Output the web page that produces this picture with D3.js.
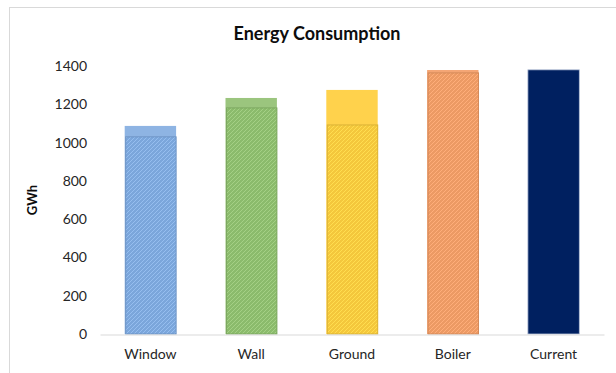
<!DOCTYPE html>
<head>
  <title>Energy Consumption</title>
</head>
<style>
html, body {
  margin: 0;
  padding: 0;
  background: #ffffff;
}
svg text {
  font-family: Lato, "Open Sans", sans-serif;
  fill: #262626;
}
.axis .domain {
  stroke: #d9d9d9;
}
.axis .tick line {
  display: none;
}
</style>

<svg width="616" height="373"></svg>

<script src="https://d3js.org/d3.v7.min.js"></script>
<script>
// categories and values
var categories = ["Window", "Wall", "Ground", "Boiler", "Current"];
var totals = [1087, 1233, 1275, 1379, 1380];
var hatched = [1030, 1181, 1092, 1364, null];
var lightColors = ["#8eb4e3", "#9bc57e", "#ffd24c", "#f4a574", "#002060"];
var hatchColors = ["#7ba6db", "#8bbb6c", "#f4c73c", "#ec9a64", null];
var yTicks = [0, 200, 400, 600, 800, 1000, 1200, 1400];

var svg = d3.select("svg");

// chart border
svg.append("rect")
  .attr("x", 9.5).attr("y", 7.5)
  .attr("width", 620).attr("height", 380)
  .attr("fill", "none")
  .attr("stroke", "#d9d9d9");

var x = d3.scaleBand()
  .domain(categories)
  .range([100, 604])
  .paddingInner(0.49)
  .paddingOuter(0.245);

var y = d3.scaleLinear()
  .domain([0, 1400])
  .range([334, 66]);

// hatch patterns, one per colour
var defs = svg.append("defs");
hatchColors.forEach(function(c, i) {
  if (!c) return;
  var p = defs.append("pattern")
    .attr("id", "hatch" + i)
    .attr("patternUnits", "userSpaceOnUse")
    .attr("width", 4).attr("height", 4);
  p.append("rect").attr("width", 4).attr("height", 4).attr("fill", c);
  p.append("path")
    .attr("d", "M-1,1 l2,-2 M0,4 l4,-4 M3,5 l2,-2")
    .attr("stroke", d3.color(lightColors[i]).brighter(0.15))
    .attr("stroke-width", 1);
});

// full (light) bars
svg.append("g")
  .selectAll("rect")
  .data(categories)
  .enter().append("rect")
    .attr("x", function(d) { return x(d); })
    .attr("width", x.bandwidth())
    .attr("y", function(d, i) { return y(totals[i]); })
    .attr("height", function(d, i) { return y(0) - y(totals[i]); })
    .attr("fill", function(d, i) { return lightColors[i]; })
    .attr("stroke", function(d, i) { return i == 4 ? "#b4c0d8" : "none"; })
    .attr("stroke-width", 0.8);

// hatched bars on top
svg.append("g")
  .selectAll("rect")
  .data(categories.filter(function(d, i) { return hatched[i] != null; }))
  .enter().append("rect")
    .attr("x", function(d) { return x(d) + 1; })
    .attr("width", x.bandwidth() - 1)
    .attr("y", function(d, i) { return y(hatched[i]); })
    .attr("height", function(d, i) { return y(0) - y(hatched[i]); })
    .attr("fill", function(d, i) { return "url(#hatch" + i + ")"; })
    .attr("stroke", function(d, i) { return d3.color(hatchColors[i]).darker(0.3); })
    .attr("stroke-width", 1);

// axes
svg.append("g")
  .attr("class", "axis")
  .attr("transform", "translate(0,334.5)")
  .call(d3.axisBottom(x).tickSize(0).tickPadding(15))
  .selectAll("text")
    .attr("font-size", 14);

var yAxis = svg.append("g")
  .attr("class", "axis")
  .attr("transform", "translate(87,0)")
  .call(d3.axisLeft(y).tickValues(yTicks).tickFormat(d3.format("d")).tickSize(0).tickPadding(0));
yAxis.select(".domain").remove();
yAxis.selectAll("text").attr("font-size", 14);

svg.append("text")
  .attr("x", 317).attr("y", 40)
  .attr("text-anchor", "middle")
  .attr("font-size", 18)
  .attr("font-weight", "bold")
  .style("fill", "#0d0d0d")
  .text("Energy Consumption");

svg.append("text")
  .attr("transform", "translate(37,200) rotate(-90)")
  .attr("text-anchor", "middle")
  .attr("font-size", 13)
  .attr("font-weight", "bold")
  .style("fill", "#0d0d0d")
  .text("GWh");
</script>
